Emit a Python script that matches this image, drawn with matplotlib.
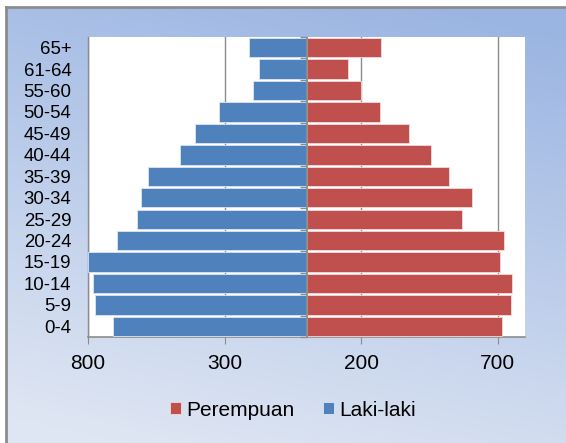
import matplotlib.pyplot as plt
import numpy as np
from matplotlib.colors import LinearSegmentedColormap
from matplotlib.ticker import FuncFormatter
from matplotlib.markers import TICKLEFT

plt.rcParams['font.family'] = ['Liberation Sans', 'DejaVu Sans']

# age groups, bottom to top
age_groups = ['0-4', '5-9', '10-14', '15-19', '20-24', '25-29', '30-34',
              '35-39', '40-44', '45-49', '50-54', '55-60', '61-64', '65+']
laki_laki = [709, 775, 781, 800, 695, 619, 605, 581, 464, 408, 319, 196, 173, 211]
perempuan = [715, 748, 752, 710, 723, 569, 606, 521, 455, 376, 268, 201, 151, 273]
x_ticks = [-800, -300, 200, 700]

blue = '#4f81bd'
red = '#c0504d'
grey = '#8c8c8c'

W, H = 566, 443
fig = plt.figure(figsize=(W / 100, H / 100), dpi=100)
fig.patch.set_facecolor('white')

# gradient background of the chart area
bg = fig.add_axes([6 / W, 0, 1 - 6 / W, (H - 7) / H])
yy, xx = np.mgrid[0:1:200j, 0:1:200j]
t = np.clip(0.85 * yy + 0.25 * (1 - xx) - 0.05, 0, 1)
cmap = LinearSegmentedColormap.from_list('bg', ['#9bb5e2', '#dfe6f3'])
bg.imshow(t, cmap=cmap, aspect='auto', extent=[0, 1, 0, 1], origin='upper')
bg.set_xlim(0, 1)
bg.set_ylim(0, 1)
bg.axis('off')
fig.add_artist(plt.Line2D([5.5 / W, 5.5 / W], [0, (H - 6.5) / H], color=grey, lw=2))
fig.add_artist(plt.Line2D([5.5 / W, 1], [(H - 6.5) / H, (H - 6.5) / H], color=grey, lw=2))

ax = fig.add_axes([88 / W, (H - 337) / H, (525 - 88) / W, 300 / H])
ax.set_facecolor('white')
y = np.arange(len(age_groups))

ax.barh(y, [-v for v in laki_laki], height=0.9, color=blue, edgecolor='#dce6f2',
        linewidth=0.6, label='Laki-laki', zorder=3)
ax.barh(y, perempuan, height=0.9, color=red, edgecolor='#f2dcdb',
        linewidth=0.6, label='Perempuan', zorder=3)

ax.set_xlim(-800, 800)
ax.set_ylim(-0.5, len(age_groups) - 0.5)
ax.set_xticks(x_ticks)
ax.xaxis.set_major_formatter(FuncFormatter(lambda v, p: f'{abs(int(v))}'))
ax.grid(axis='x', color=grey, lw=1, zorder=1)
ax.tick_params(axis='x', length=5, color=grey, labelsize=15, pad=7)

ax.set_yticks(y)
ax.set_yticklabels(age_groups)
ax.tick_params(axis='y', length=0, labelsize=13.4, pad=12)

for side in ['top', 'right']:
    ax.spines[side].set_visible(False)
ax.spines['left'].set_color(grey)
ax.spines['bottom'].set_color(grey)
ax.spines['left'].set_linewidth(1)
ax.spines['bottom'].set_linewidth(1.2)

# vertical axis at zero with category boundary ticks
bounds = np.arange(len(age_groups) + 1) - 0.5
ax.axvline(0, color=grey, lw=1.3, zorder=4)
ax.plot(np.zeros(len(bounds)), bounds, ls='', marker=TICKLEFT, markersize=5,
        markeredgewidth=1, color=grey, zorder=5, clip_on=False)

handles, labels = ax.get_legend_handles_labels()
fig.legend(handles[::-1], labels[::-1], loc='center', bbox_to_anchor=(293 / W, 1 - 410 / H),
           ncol=2, frameon=False, fontsize=15, handlelength=0.5, handleheight=0.5,
           handletextpad=0.25, columnspacing=1.4)

fig.savefig('out.png', dpi=100)
